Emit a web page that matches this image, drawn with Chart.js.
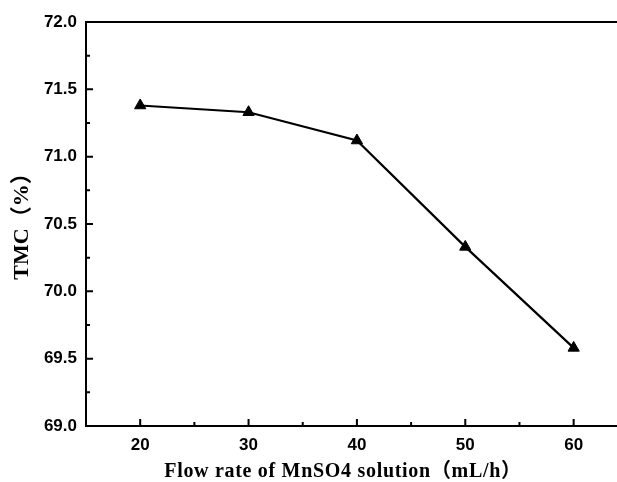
<!DOCTYPE html>
<html>
<head>
<meta charset="utf-8">
<script src="https://cdn.jsdelivr.net/npm/chart.js@4/dist/chart.umd.min.js"></script>
<style>
html,body{margin:0;padding:0;background:#fff;}
canvas{display:block;}
</style>
</head>
<body>
<canvas id="c" width="617" height="482"></canvas>
<script>
const flowRates = [20, 30, 40, 50, 60];
const tmcValues = [71.38, 71.33, 71.12, 70.33, 69.58];
const xTickValues = [20, 30, 40, 50, 60];
const xMinorValues = [15, 25, 35, 45, 55];
const yMinorValues = [69.25, 69.75, 70.25, 70.75, 71.25, 71.75];
const xTitle = 'Flow rate of MnSO4 solution（mL/h）';
const yTitle = 'TMC（%）';

const serif = '"Liberation Serif", "Times New Roman", "Noto Sans CJK SC", serif';
const sans = '"Liberation Sans", Arial, sans-serif';

const frame = {
  id: 'frame',
  afterDraw(chart) {
    const ctx = chart.ctx;
    const a = chart.chartArea;
    const xs = chart.scales.x, ys = chart.scales.y;
    ctx.save();
    ctx.strokeStyle = '#000';
    ctx.lineWidth = 2;
    ctx.beginPath();
    ctx.moveTo(a.left, a.top);
    ctx.lineTo(a.right, a.top);
    ctx.stroke();
    ctx.beginPath();
    ys.ticks.forEach(t => {
      const y = ys.getPixelForValue(t.value);
      ctx.moveTo(a.left, y); ctx.lineTo(a.left + 7, y);
    });
    yMinorValues.forEach(v => {
      const y = ys.getPixelForValue(v);
      ctx.moveTo(a.left, y); ctx.lineTo(a.left + 4, y);
    });
    xs.ticks.forEach(t => {
      const x = xs.getPixelForValue(t.value);
      ctx.moveTo(x, a.bottom); ctx.lineTo(x, a.bottom - 7);
    });
    xMinorValues.forEach(v => {
      const x = xs.getPixelForValue(v);
      ctx.moveTo(x, a.bottom); ctx.lineTo(x, a.bottom - 4);
    });
    ctx.stroke();

    // axis titles
    ctx.fillStyle = '#000';
    ctx.textAlign = 'center';
    ctx.textBaseline = 'alphabetic';
    ctx.font = 'bold 20px ' + serif;
    try { ctx.letterSpacing = '0.7px'; } catch (e) {}
    ctx.fillText(xTitle, 343, 477);
    ctx.font = 'bold 22px ' + serif;
    try { ctx.letterSpacing = '0px'; } catch (e) {}
    ctx.translate(28, 221);
    ctx.rotate(-Math.PI / 2);
    ctx.fillText(yTitle, 0, 0);
    ctx.restore();
  }
};

new Chart(document.getElementById('c'), {
  type: 'line',
  data: {
    datasets: [{
      data: flowRates.map((x, i) => ({x, y: tmcValues[i]})),
      borderColor: '#000',
      backgroundColor: '#000',
      borderWidth: 2.2,
      pointStyle: 'triangle',
      pointRadius: 6.5,
      pointBorderWidth: 1,
      tension: 0
    }]
  },
  options: {
    responsive: false,
    devicePixelRatio: 1,
    animation: false,
    layout: {autoPadding: false, padding: {top: 22, right: 0, left: 0, bottom: 0}},
    plugins: {legend: {display: false}, tooltip: {enabled: false}},
    scales: {
      x: {
        type: 'linear',
        min: 15, max: 64,
        afterBuildTicks: s => { s.ticks = xTickValues.map(v => ({value: v})); },
        afterFit: s => { s.height = 56; },
        grid: {display: false, drawTicks: false},
        border: {display: true, color: '#000', width: 2},
        ticks: {color: '#000', padding: 9, font: {family: sans, size: 17, weight: 'bold'}},
        title: {display: false}
      },
      y: {
        type: 'linear',
        min: 69, max: 72,
        ticks: {stepSize: 0.5, color: '#000', padding: 9, callback: v => v.toFixed(1),
                font: {family: sans, size: 17, weight: 'bold'}},
        afterFit: s => { s.width = 86; },
        grid: {display: false, drawTicks: false},
        border: {display: true, color: '#000', width: 2},
        title: {display: false}
      }
    }
  },
  plugins: [frame]
});
</script>
</body>
</html>
